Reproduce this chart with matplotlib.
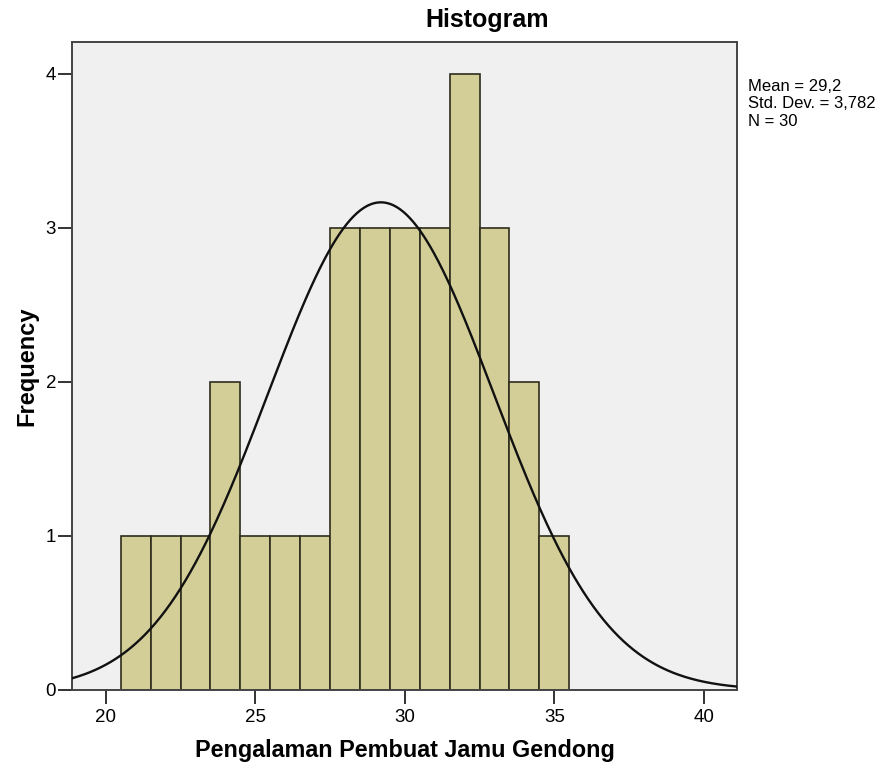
import numpy as np
import matplotlib

matplotlib.use('Agg')
import matplotlib.pyplot as plt

matplotlib.rcParams['font.family'] = ['Liberation Sans', 'DejaVu Sans']

# histogram data (bin centres and counts)
bin_centers = [21, 22, 23, 24, 25, 26, 27, 28, 29, 30, 31, 32, 33, 34, 35]
counts = [1, 1, 1, 2, 1, 1, 1, 3, 3, 3, 3, 4, 3, 2, 1]
mean = 29.2
std_dev = 3.782
n_total = 30
stats_text = ['Mean = 29,2', 'Std. Dev. = 3,782', 'N = 30']
x_ticks = [20, 25, 30, 35, 40]
y_ticks = [0, 1, 2, 3, 4]

bar_color = '#d3ce97'
edge_color = '#2e2c1c'

fig = plt.figure(figsize=(8.88, 7.70), dpi=100)
ax = fig.add_axes([0.0811, 0.1039, 0.7485, 0.8416])
ax.set_facecolor('#f0f0f0')

ax.bar(bin_centers, counts, width=1.0, color=bar_color, edgecolor=edge_color,
       linewidth=1.2, zorder=2)

# normal curve scaled to counts
xs = np.linspace(18.87, 41.1, 400)
ys = n_total * 1.0 / (std_dev * np.sqrt(2 * np.pi)) * np.exp(-0.5 * ((xs - mean) / std_dev) ** 2)
ax.plot(xs, ys, color='#111111', linewidth=1.7, zorder=3)

ax.set_xlim(18.87, 41.1)
ax.set_ylim(0, 4.205)
ax.set_xticks(x_ticks)
ax.set_yticks(y_ticks)
ax.tick_params(direction='out', length=10, width=1.4, color='#333333', labelsize=13.5)
ax.tick_params(axis='x', pad=3.5)
ax.tick_params(axis='y', pad=1.5)
for side in ['left', 'bottom', 'right', 'top']:
    ax.spines[side].set_color('#444444')
    ax.spines[side].set_linewidth(1.4)

fig.text(487 / 888, 1 - 20 / 770, 'Histogram', fontsize=18, fontweight='bold',
         ha='center', va='center')
fig.text(405 / 888, 1 - 751 / 770, 'Pengalaman Pembuat Jamu Gendong', fontsize=16.8,
         fontweight='bold', ha='center', va='center')
fig.text(27 / 888, 1 - 366 / 770, 'Frequency', fontsize=17, fontweight='bold',
         ha='center', va='center', rotation=90)

fig.text(748 / 888, 1 - 79 / 770, '\n'.join(stats_text), fontsize=12, va='top', ha='left',
         linespacing=1.2)

fig.savefig('out.png', dpi=100)
